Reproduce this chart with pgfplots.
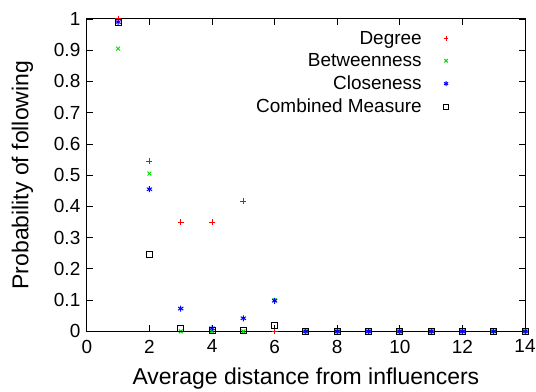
\documentclass[border=0pt]{standalone}
\usepackage{pgfplots}
\pgfplotsset{compat=1.18}
\usepackage{fontspec}
\setmainfont{Liberation Sans}
\definecolor{gred}{RGB}{255,0,0}
\definecolor{ggreen}{RGB}{0,220,0}
\definecolor{gblue}{RGB}{0,0,255}
\begin{document}
\begin{tikzpicture}
\begin{axis}[
  name=ax,
  scale only axis, width=439pt, height=313pt,
  xmin=0, xmax=14, ymin=0, ymax=1,
  xtick={0,2,...,14},
  ytick={0,0.1,...,1},
  yticklabel style={/pgf/number format/fixed, xshift=-3pt},
  xticklabel style={yshift=-5pt},
  /pgf/number format/assume math mode=true,
  tick align=inside, major tick length=6pt,
  tick style={black, line width=0.8pt},
  axis line style={line width=1pt},
  font=\fontsize{19}{22}\selectfont,
  xlabel={Average distance from influencers},
  ylabel={Probability of following},
  label style={font=\fontsize{23}{26}\selectfont},
  xlabel style={yshift=-8pt},
  ylabel style={yshift=14pt},
  clip=false,
  legend style={draw=none, fill=none, at={(0.8326,0.975)}, anchor=north east,
    row sep=4pt, column sep=20pt, font=\fontsize{19}{22}\selectfont},
  legend cell align=right,
  legend plot pos=right,
  legend image post style={mark size=2.4pt},
]
\addplot[only marks, mark=+, draw=gred, mark size=3pt, mark options={draw=gred, solid, line width=1pt}] coordinates {
(1,1.0) (2,0.545) (3,0.35) (4,0.35) (5,0.417) (6,0) (7,0) (8,0) (9,0) (10,0) (11,0) (12,0) (13,0) (14,0)};
\addlegendentry{Degree}
\addplot[only marks, mark=x, draw=ggreen, mark size=2.7pt, mark options={draw=ggreen, solid, line width=1pt}] coordinates {
(1,0.905) (2,0.505) (3,0) (4,0) (5,0) (6,0.1) (7,0) (8,0) (9,0) (10,0) (11,0) (12,0) (13,0) (14,0)};
\addlegendentry{Betweenness}
\addplot[only marks, mark=asterisk, draw=gblue, mark size=3pt, mark options={draw=gblue, solid, line width=1pt}] coordinates {
(1,0.99) (2,0.455) (3,0.073) (4,0.01) (5,0.042) (6,0.098) (7,0) (8,0) (9,0) (10,0) (11,0) (12,0) (13,0) (14,0)};
\addlegendentry{Closeness}
\addplot[only marks, mark=square, draw=black, mark size=3pt, mark options={draw=black, solid, line width=1pt}] coordinates {
(1,0.99) (2,0.245) (3,0.01) (4,0.004) (5,0.004) (6,0.02) (7,0) (8,0) (9,0) (10,0) (11,0) (12,0) (13,0) (14,0)};
\addlegendentry{Combined Measure}
\end{axis}
\pgfresetboundingbox
\path (ax.south west)+(-87pt,-60pt) rectangle (ax.north east)+(11pt,19pt);
\end{tikzpicture}
\end{document}
